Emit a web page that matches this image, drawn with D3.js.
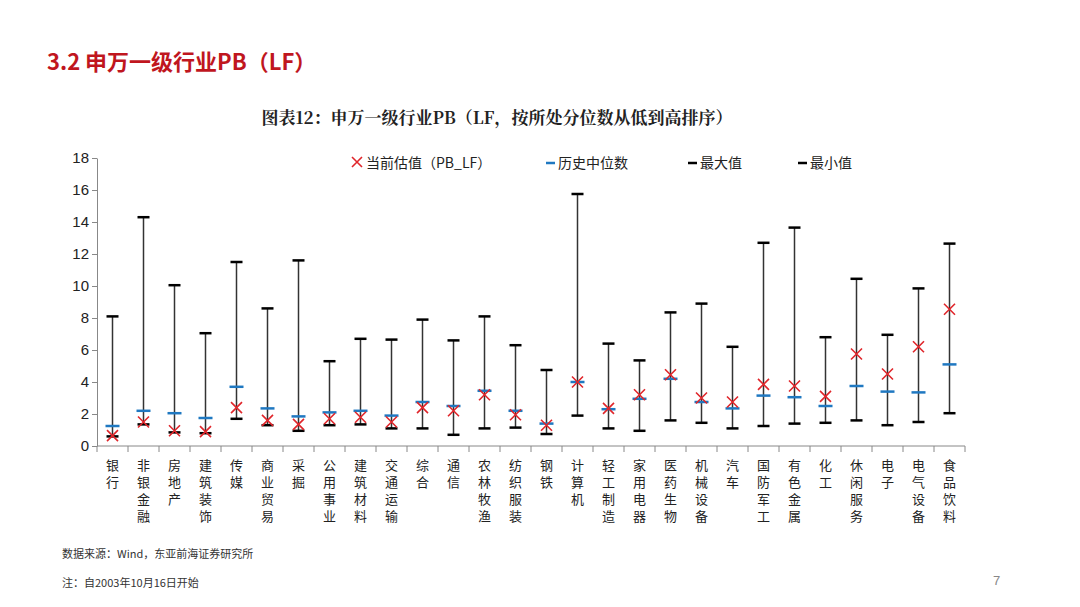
<!DOCTYPE html>
<html><head><meta charset="utf-8">
<script src="https://cdn.jsdelivr.net/npm/d3@7"></script>
<style>body{margin:0;background:#fff}</style></head>
<body><svg id="c" width="1080" height="607"></svg>
<script>
const categories=["银行","非银金融","房地产","建筑装饰","传媒","商业贸易","采掘","公用事业","建筑材料","交通运输","综合","通信","农林牧渔","纺织服装","钢铁","计算机","轻工制造","家用电器","医药生物","机械设备","汽车","国防军工","有色金属","化工","休闲服务","电子","电气设备","食品饮料"];
const maxVals=[8.1,14.3,10.05,7.05,11.5,8.6,11.6,5.3,6.7,6.65,7.9,6.6,8.1,6.3,4.75,15.75,6.4,5.35,8.35,8.9,6.2,12.7,13.65,6.8,10.45,6.95,9.85,12.65];
const minVals=[0.6,1.35,0.85,0.8,1.7,1.3,0.95,1.3,1.35,1.1,1.1,0.7,1.1,1.15,0.75,1.9,1.1,0.95,1.6,1.45,1.1,1.25,1.4,1.45,1.6,1.3,1.5,2.05];
const medianVals=[1.25,2.2,2.05,1.75,3.7,2.35,1.85,2.1,2.2,1.9,2.75,2.5,3.45,2.2,1.4,4.0,2.3,2.95,4.2,2.75,2.35,3.15,3.05,2.5,3.75,3.4,3.35,5.1];
const currentVals=[0.65,1.5,0.95,0.9,2.4,1.6,1.35,1.7,1.8,1.5,2.4,2.2,3.2,1.95,1.3,4.0,2.35,3.2,4.45,3.0,2.75,3.85,3.75,3.1,5.75,4.5,6.2,8.55];
const yTicks=[0,2,4,6,8,10,12,14,16,18];

const svg=d3.select("#c");
const font="'Noto Sans CJK SC','Noto Sans',sans-serif";
svg.append("text").attr("x",47).attr("y",70).attr("fill","#c0161e").attr("font-size",22).attr("font-weight","bold").attr("font-family",font).text("3.2 申万一级行业PB（LF）");
svg.append("text").attr("x",497).attr("y",124).attr("text-anchor","middle").attr("font-size",17).attr("font-weight","bold").attr("font-family","'Noto Serif CJK SC','Noto Sans CJK SC',serif").attr("fill","#222").text("图表12：申万一级行业PB（LF，按所处分位数从低到高排序）");

const x=d3.scaleBand().domain(categories).range([97,965]);
const y=d3.scaleLinear().domain([0,18]).range([446,158]);
const g=svg.append("g");
g.append("g").attr("transform","translate(97,0)").call(d3.axisLeft(y).tickValues(yTicks).tickSize(5).tickSizeOuter(0))
 .call(a=>{a.selectAll("text").attr("font-size",15).attr("font-family","Arial,'Liberation Sans'").attr("fill","#222");a.select(".domain").attr("stroke","#888");a.selectAll("line").attr("stroke","#888");});
g.append("line").attr("x1",97).attr("x2",965).attr("y1",446).attr("y2",446).attr("stroke","#888");
categories.forEach((c,i)=>{g.append("line").attr("x1",x(c)+x.bandwidth()).attr("x2",x(c)+x.bandwidth()).attr("y1",446).attr("y2",452).attr("stroke","#888");});
g.append("line").attr("x1",97).attr("x2",97).attr("y1",446).attr("y2",452).attr("stroke","#888");

categories.forEach((c,i)=>{
  const cx=x(c)+x.bandwidth()/2;
  g.append("line").attr("x1",cx).attr("x2",cx).attr("y1",y(maxVals[i])).attr("y2",y(minVals[i])).attr("stroke","#333").attr("stroke-width",1.5);
  [maxVals[i],minVals[i]].forEach(v=>g.append("line").attr("x1",cx-6).attr("x2",cx+6).attr("y1",y(v)).attr("y2",y(v)).attr("stroke","#000").attr("stroke-width",2.5));
  g.append("line").attr("x1",cx-7).attr("x2",cx+7).attr("y1",y(medianVals[i])).attr("y2",y(medianVals[i])).attr("stroke","#1f78c1").attr("stroke-width",2.5);
  const cy=y(currentVals[i]),s=5.5;
  g.append("path").attr("d",`M${cx-s},${cy-s}L${cx+s},${cy+s}M${cx-s},${cy+s}L${cx+s},${cy-s}`).attr("stroke","#e0262b").attr("stroke-width",1.6);
  [...c].forEach((ch,k)=>g.append("text").attr("x",cx).attr("y",470+k*17).attr("text-anchor","middle").attr("font-size",13).attr("font-family",font).attr("fill","#222").text(ch));
});

const lf=font;
const lg=svg.append("g");
lg.append("path").attr("d","M352,157L362,167M352,167L362,157").attr("stroke","#e0262b").attr("stroke-width",1.6);
lg.append("text").attr("x",366).attr("y",168).attr("font-size",14).attr("font-family",lf).attr("fill","#222").text("当前估值（PB_LF）");
lg.append("line").attr("x1",546).attr("x2",555).attr("y1",163).attr("y2",163).attr("stroke","#1f78c1").attr("stroke-width",2.5);
lg.append("text").attr("x",558).attr("y",168).attr("font-size",14).attr("font-family",lf).attr("fill","#222").text("历史中位数");
lg.append("line").attr("x1",688).attr("x2",697).attr("y1",163).attr("y2",163).attr("stroke","#000").attr("stroke-width",2.5);
lg.append("text").attr("x",700).attr("y",168).attr("font-size",14).attr("font-family",lf).attr("fill","#222").text("最大值");
lg.append("line").attr("x1",798).attr("x2",807).attr("y1",163).attr("y2",163).attr("stroke","#000").attr("stroke-width",2.5);
lg.append("text").attr("x",810).attr("y",168).attr("font-size",14).attr("font-family",lf).attr("fill","#222").text("最小值");

svg.append("text").attr("x",62).attr("y",558).attr("font-size",11).attr("font-family",font).attr("fill","#333").text("数据来源：Wind，东亚前海证券研究所");
svg.append("text").attr("x",62).attr("y",587).attr("font-size",11).attr("font-family",font).attr("fill","#333").text("注：自2003年10月16日开始");
svg.append("text").attr("x",993).attr("y",585).attr("font-size",13).attr("font-family","Arial").attr("fill","#888").text("7");
</script></body></html>
